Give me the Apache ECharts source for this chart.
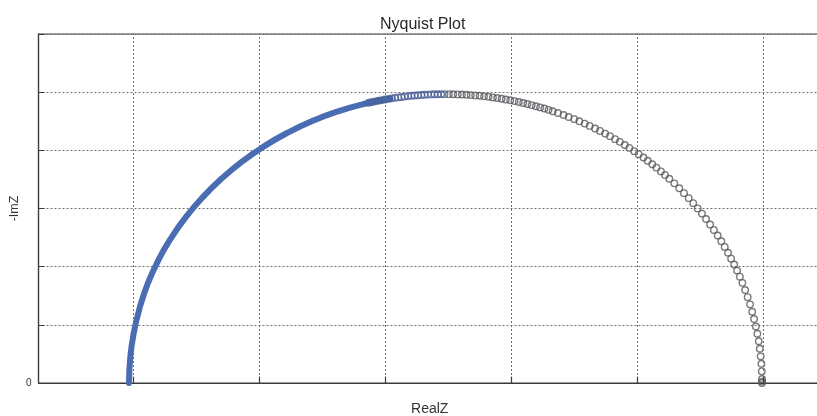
<!DOCTYPE html>
<html>
<head>
<meta charset="utf-8">
<script src="https://cdn.jsdelivr.net/npm/echarts@6/dist/echarts.min.js"></script>
<style>
html,body{margin:0;padding:0;background:#fff;}
#chart{width:817px;height:416px;}
</style>
</head>
<body>
<div id="chart"></div>
<script>
// Nyquist data (RealZ, -ImZ)
const xGridTicks = [1, 2, 3, 4, 5, 6];
const yTickLabels = ['0'];

// dense high-frequency part (appears as a solid band)
const highFreqBand = [
  [0.968, 0.000], [0.978, 0.217], [1.006, 0.431], [1.054, 0.650], [1.119, 0.860],
  [1.203, 1.060], [1.305, 1.250], [1.422, 1.430], [1.556, 1.600], [1.704, 1.758],
  [1.865, 1.903], [2.039, 2.034], [2.224, 2.150], [2.418, 2.250], [2.621, 2.333],
  [2.830, 2.398], [3.044, 2.445]
];

// rings near the apex
const ringsApex = [
  [2.872, 2.409], [2.898, 2.416], [2.924, 2.421], [2.949, 2.427], [2.975, 2.432],
  [3.001, 2.437], [3.027, 2.442], [3.052, 2.447], [3.078, 2.451], [3.104, 2.455],
  [3.130, 2.459], [3.156, 2.462], [3.183, 2.466], [3.209, 2.469], [3.235, 2.471],
  [3.261, 2.474], [3.287, 2.476], [3.313, 2.478], [3.340, 2.479], [3.366, 2.481],
  [3.392, 2.482], [3.419, 2.482], [3.445, 2.483], [3.471, 2.483]
];

// sparse low-frequency rings
const ringsLowFreq = [
  [3.506, 2.483], [3.541, 2.482], [3.577, 2.481], [3.611, 2.480], [3.647, 2.478],
  [3.681, 2.475], [3.716, 2.472], [3.751, 2.469], [3.786, 2.464], [3.821, 2.460],
  [3.856, 2.455], [3.890, 2.450], [3.925, 2.444], [3.959, 2.437], [3.994, 2.431],
  [4.028, 2.423], [4.062, 2.415], [4.096, 2.407], [4.130, 2.398], [4.164, 2.389],
  [4.198, 2.379], [4.231, 2.369], [4.265, 2.359], [4.298, 2.348], [4.331, 2.336],
  [4.372, 2.321], [4.417, 2.304], [4.457, 2.287], [4.502, 2.268], [4.542, 2.250],
  [4.585, 2.230], [4.624, 2.210], [4.667, 2.188], [4.706, 2.167], [4.747, 2.144],
  [4.785, 2.122], [4.826, 2.096], [4.863, 2.073], [4.903, 2.046], [4.939, 2.021],
  [4.978, 1.993], [5.013, 1.967], [5.051, 1.938], [5.085, 1.910], [5.121, 1.880],
  [5.154, 1.851], [5.190, 1.819], [5.222, 1.789], [5.256, 1.756], [5.296, 1.716],
  [5.335, 1.674], [5.373, 1.632], [5.410, 1.589], [5.446, 1.546], [5.481, 1.501],
  [5.515, 1.456], [5.548, 1.410], [5.580, 1.363], [5.610, 1.316], [5.640, 1.268],
  [5.669, 1.219], [5.696, 1.170], [5.722, 1.120], [5.747, 1.069], [5.771, 1.018],
  [5.794, 0.966], [5.816, 0.914], [5.836, 0.861], [5.858, 0.800], [5.878, 0.738],
  [5.897, 0.676], [5.914, 0.613], [5.929, 0.550], [5.943, 0.486], [5.955, 0.423],
  [5.966, 0.359], [5.974, 0.294], [5.981, 0.229], [5.987, 0.165], [5.990, 0.100],
  [5.992, 0.035], [5.992, 0.012], [5.992, 0.000]
];

const chart = echarts.init(document.getElementById('chart'), null, {renderer: 'canvas'});
const fontFamily = 'Liberation Sans, Arial, sans-serif';
const axisColor = '#3a3a3a';
const gridColor = '#707070';
chart.setOption({
  animation: false,
  backgroundColor: '#ffffff',
  title: {
    text: 'Nyquist Plot',
    left: 375,
    top: 12,
    textStyle: {fontFamily: fontFamily, fontSize: 16, fontWeight: 'normal', color: '#2a2a2a'}
  },
  grid: {
    left: 38.5, top: 34, right: -4, bottom: 33,
    outerBoundsMode: 'none', containLabel: false,
    show: true, borderColor: axisColor, borderWidth: 1.2, backgroundColor: 'transparent'
  },
  xAxis: {
    type: 'value', min: 0.25, max: 6.46,
    name: 'RealZ', nameLocation: 'middle', nameGap: 19, nameMoveOverlap: false,
    nameTextStyle: {fontFamily: fontFamily, fontSize: 14, color: '#333'},
    axisLine: {show: true, onZero: false, lineStyle: {color: axisColor, width: 1.2}},
    axisTick: {show: false},
    axisLabel: {show: false},
    splitLine: {show: false}
  },
  yAxis: {
    type: 'value', min: 0, max: 3, interval: 0.5,
    name: '-ImZ', nameLocation: 'middle', nameGap: 17, nameMoveOverlap: false,
    nameTextStyle: {fontFamily: fontFamily, fontSize: 12.5, color: '#333'},
    axisLine: {show: true, lineStyle: {color: axisColor, width: 1.2}},
    axisTick: {show: true, inside: true, length: 6, lineStyle: {color: axisColor, width: 1}},
    axisLabel: {
      show: true, margin: 7, fontFamily: fontFamily, fontSize: 10, color: '#333',
      formatter: function (v) { return v === 0 ? yTickLabels[0] : ''; }
    },
    splitLine: {show: true, lineStyle: {color: gridColor, width: 1, type: [2, 2]}}
  },
  series: [
    {
      name: 'grid', type: 'scatter', data: [], z: 1, silent: true,
      markLine: {
        silent: true, symbol: ['none', 'none'], label: {show: false},
        lineStyle: {color: gridColor, width: 1, type: [2, 2]},
        emphasis: {disabled: true},
        data: xGridTicks.map(function (v) { return {xAxis: v}; })
      }
    },
    {
      name: 'band', type: 'line', data: highFreqBand, z: 3, silent: true,
      smooth: true, showSymbol: false, symbol: 'none',
      lineStyle: {color: '#4a6cb3', width: 6, cap: 'round'},
      markLine: {
        silent: true, symbol: ['none', 'none'], label: {show: false},
        lineStyle: {color: axisColor, width: 1.2, type: 'solid'},
        emphasis: {disabled: true},
        data: xGridTicks.map(function (v) { return [{coord: [v, 0.002]}, {coord: [v, 0.055]}]; })
      }
    },
    {
      name: 'apex', type: 'scatter', data: ringsApex, z: 4, silent: true,
      symbol: 'circle', symbolSize: 6.5,
      itemStyle: {color: 'rgba(0,0,0,0)', borderColor: '#4a5f94', borderWidth: 1.4}
    },
    {
      name: 'low', type: 'scatter', data: ringsLowFreq, z: 4, silent: true,
      symbol: 'circle', symbolSize: 6.5,
      itemStyle: {color: 'rgba(0,0,0,0)', borderColor: '#58585e', borderWidth: 1.4}
    }
  ]
});
</script>
</body>
</html>
